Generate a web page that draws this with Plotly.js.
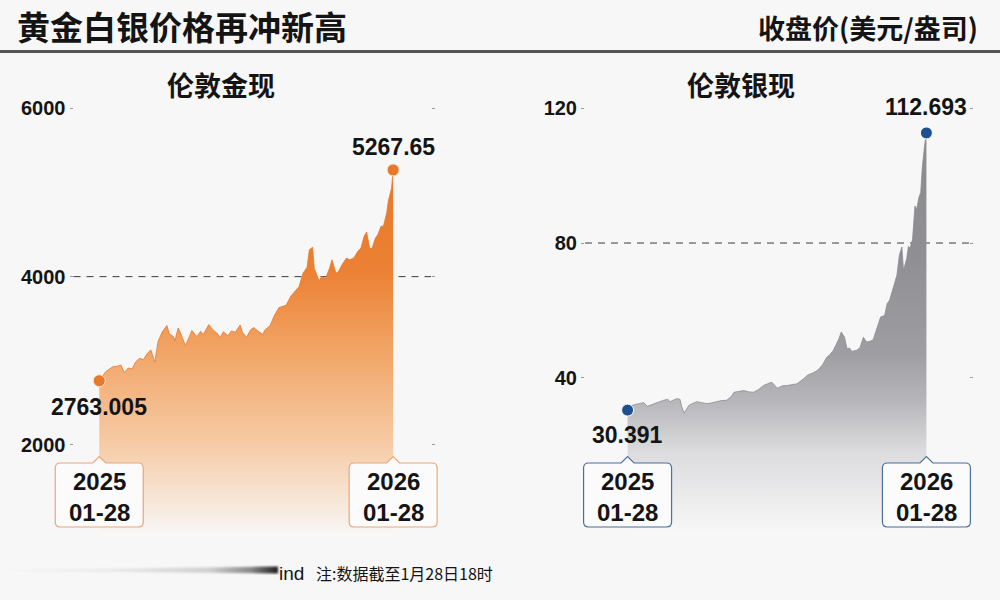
<!DOCTYPE html>
<html><head><meta charset="utf-8">
<script src="https://cdn.plot.ly/plotly-3.0.1.min.js"></script>
<style>html,body{margin:0;padding:0;background:#f7f7f7}#chart{width:1000px;height:600px}</style>
</head><body><div id="chart"></div>
<script>
// ---------------- data ----------------
const goldDates = ['2025-01-28','2025-01-31','2025-02-05','2025-02-10','2025-02-14','2025-02-19','2025-02-24','2025-02-28','2025-03-05','2025-03-10','2025-03-14','2025-03-19','2025-03-24','2025-03-28','2025-04-02','2025-04-07','2025-04-11','2025-04-16','2025-04-22','2025-04-25','2025-04-30','2025-05-02','2025-05-06','2025-05-09','2025-05-15','2025-05-20','2025-05-23','2025-05-29','2025-06-03','2025-06-06','2025-06-13','2025-06-18','2025-06-24','2025-06-27','2025-07-01','2025-07-07','2025-07-11','2025-07-16','2025-07-22','2025-07-25','2025-07-30','2025-08-04','2025-08-08','2025-08-13','2025-08-19','2025-08-22','2025-08-28','2025-09-02','2025-09-08','2025-09-12','2025-09-17','2025-09-23','2025-09-29','2025-10-03','2025-10-08','2025-10-13','2025-10-16','2025-10-20','2025-10-22','2025-10-28','2025-10-31','2025-11-05','2025-11-10','2025-11-13','2025-11-18','2025-11-21','2025-11-26','2025-12-01','2025-12-05','2025-12-10','2025-12-15','2025-12-19','2025-12-23','2025-12-26','2025-12-30','2026-01-02','2026-01-06','2026-01-09','2026-01-13','2026-01-16','2026-01-20','2026-01-22','2026-01-26','2026-01-27','2026-01-28'];
const goldValues = [2763.005,2800,2870,2905,2930,2935,2950,2860,2915,2905,2985,3030,3015,3080,3130,2985,3230,3340,3420,3320,3290,3240,3390,3330,3180,3290,3360,3290,3350,3310,3430,3370,3320,3275,3345,3300,3355,3340,3425,3335,3280,3370,3395,3355,3315,3370,3415,3530,3630,3645,3660,3770,3830,3880,4040,4110,4320,4350,4100,3950,4000,3980,4100,4200,4040,4060,4150,4220,4200,4220,4300,4340,4480,4530,4330,4340,4460,4500,4600,4600,4760,4900,5050,5180,5267.65];

const silverDates = ['2025-01-28','2025-01-31','2025-02-05','2025-02-12','2025-02-17','2025-02-21','2025-02-26','2025-03-01','2025-03-06','2025-03-13','2025-03-18','2025-03-21','2025-03-26','2025-03-29','2025-04-02','2025-04-04','2025-04-07','2025-04-10','2025-04-13','2025-04-18','2025-04-23','2025-04-28','2025-05-05','2025-05-10','2025-05-17','2025-05-22','2025-05-29','2025-06-04','2025-06-07','2025-06-12','2025-06-19','2025-06-25','2025-07-01','2025-07-07','2025-07-13','2025-07-18','2025-07-23','2025-07-30','2025-08-05','2025-08-11','2025-08-17','2025-08-23','2025-08-31','2025-09-05','2025-09-12','2025-09-17','2025-09-23','2025-09-28','2025-10-01','2025-10-06','2025-10-09','2025-10-13','2025-10-16','2025-10-20','2025-10-23','2025-10-26','2025-10-29','2025-11-04','2025-11-08','2025-11-12','2025-11-16','2025-11-20','2025-11-24','2025-11-28','2025-12-03','2025-12-08','2025-12-11','2025-12-14','2025-12-17','2025-12-20','2025-12-23','2025-12-26','2025-12-29','2025-12-31','2026-01-04','2026-01-06','2026-01-08','2026-01-11','2026-01-14','2026-01-16','2026-01-19','2026-01-21','2026-01-23','2026-01-26','2026-01-28'];
const silverValues = [30.391,31.5,32.0,32.3,32.6,31.5,32.0,32.1,32.8,33.3,33.6,32.9,33.5,33.8,33.6,31.5,29.5,30.5,31.8,32.4,32.9,32.6,32.3,32.5,32.9,33.2,33.3,34.5,35.7,35.9,36.2,35.8,35.7,36.5,37.7,38.2,38.7,36.9,37.6,37.7,37.9,38.2,39.7,40.8,41.5,42.2,43.8,46.0,46.6,48.0,49.5,51.5,53.6,52.0,48.6,48.8,47.8,48.2,49.0,52.0,50.6,50.8,51.3,54.5,58.0,58.5,62.0,63.0,65.5,67.5,70.5,76.5,78.8,71.9,75.5,79.0,78.5,81.0,91.0,90.0,93.7,95.0,102.6,109.5,112.693];

const goldTicks = [2000, 4000, 6000];
const silverTicks = [40, 80, 120];
const goldRefLine = 4000;
const silverRefLine = 80;
const goldRange = [966, 6000];
const silverRange = [-5.8, 120];
const chartTitle = '黄金白银价格再冲新高';
const unitText = '收盘价(美元/盎司)';
const panelTitles = ['伦敦金现', '伦敦银现'];
const footerSource = 'ind';
const footerNote = '注:数据截至1月28日18时';

// ---------------- style ----------------
const NUM = '"Liberation Sans", Arial, sans-serif';
const CJK = '"Noto Sans CJK SC", "Noto Sans", sans-serif';
const INK = '#141414';
const BG = '#f7f7f7';
const GOLD = '#e8782a';
const SILVER_DOT = '#1f4f8f';
const H = 600, W = 1000;
const py = px => 1 - px / H;

const gN = goldDates.length, sN = silverDates.length;

const xGold = {domain: [0.0735, 0.431], range: ['2024-12-27', '2026-03-16']};
const xSilver = {domain: [0.585, 0.969], range: ['2024-12-07', '2026-03-21']};
function dateToPaper(ax, d) {
  const t = Date.parse(d + 'T00:00:00Z');
  const r0 = Date.parse(ax.range[0] + 'T00:00:00Z'), r1 = Date.parse(ax.range[1] + 'T00:00:00Z');
  return ax.domain[0] + (t - r0) / (r1 - r0) * (ax.domain[1] - ax.domain[0]);
}

const traces = [
  {
    x: goldDates, y: goldValues, xaxis: 'x', yaxis: 'y', type: 'scatter', mode: 'lines',
    line: {color: GOLD, width: 0.8}, fill: 'tozeroy',
    fillgradient: {type: 'vertical', start: goldRange[0], stop: 5268,
      colorscale: [[0, 'rgba(247,245,243,1)'], [0.25, '#f6caa4'], [0.5, '#f1a566'], [0.72, '#eb8134'], [1, '#e8782a']]},
    hoverinfo: 'skip'
  },
  {
    x: [goldDates[0], goldDates[gN-1]], y: [goldValues[0], goldValues[gN-1]], xaxis: 'x', yaxis: 'y',
    type: 'scatter', mode: 'markers', marker: {size: 12, color: GOLD, line: {color: '#fbe3d0', width: 1}}, hoverinfo: 'skip'
  },
  {
    x: [silverDates[0], silverDates[sN-1]], y: [silverRange[0], silverRange[0]], xaxis: 'x2', yaxis: 'y2',
    type: 'scatter', mode: 'lines', line: {width: 0, color: 'rgba(0,0,0,0)'}, hoverinfo: 'skip'
  },
  {
    x: silverDates, y: silverValues, xaxis: 'x2', yaxis: 'y2', type: 'scatter', mode: 'lines',
    line: {color: '#8d8c90', width: 0.8}, fill: 'tonexty',
    fillgradient: {type: 'vertical', start: silverRange[0], stop: 112.7,
      colorscale: [[0, 'rgba(247,247,248,1)'], [0.2, '#dcdcde'], [0.33, '#b6b5b9'], [0.45, '#9e9da1'], [0.7, '#8f8e92'], [1, '#8c8b8f']]},
    hoverinfo: 'skip'
  },
  {
    x: [silverDates[0], silverDates[sN-1]], y: [silverValues[0], silverValues[sN-1]], xaxis: 'x2', yaxis: 'y2',
    type: 'scatter', mode: 'markers', marker: {size: 12, color: SILVER_DOT, line: {color: '#ffffff', width: 1}}, hoverinfo: 'skip'
  }
];

const tickFont = {family: NUM, size: 20, color: INK, weight: 'bold'};
const yBase = {
  tickmode: 'array', ticks: 'outside', ticklen: 3, tickwidth: 1, tickcolor: '#9a9a9a',
  mirror: 'ticks', showline: false, showgrid: false, zeroline: false, tickfont: tickFont, fixedrange: true
};

const layout = {
  width: W, height: H, margin: {l: 0, r: 0, t: 0, b: 0},
  paper_bgcolor: BG, plot_bgcolor: BG, showlegend: false,
  xaxis: {domain: xGold.domain, anchor: 'y', type: 'date', range: xGold.range, visible: false},
  yaxis: Object.assign({}, yBase, {domain: [py(532), py(108.3)], anchor: 'x', range: goldRange, tickvals: goldTicks, ticktext: goldTicks.map(String)}),
  xaxis2: {domain: xSilver.domain, anchor: 'y2', type: 'date', range: xSilver.range, visible: false},
  yaxis2: Object.assign({}, yBase, {domain: [py(532), py(108.3)], anchor: 'x2', range: silverRange, tickvals: silverTicks, ticktext: silverTicks.map(String)}),
  shapes: [], annotations: [], images: []
};

// reference dashed lines
layout.shapes.push({type: 'line', xref: 'x domain', yref: 'y', x0: 0, x1: 1, y0: goldRefLine, y1: goldRefLine,
  line: {color: '#3c3c3c', width: 1, dash: '7px,6px'}, layer: 'below'});
layout.shapes.push({type: 'line', xref: 'x2 domain', yref: 'y2', x0: 0, x1: 1, y0: silverRefLine, y1: silverRefLine,
  line: {color: '#3c3c3c', width: 1, dash: '7px,6px'}, layer: 'below'});
// header rule
layout.shapes.push({type: 'line', xref: 'paper', yref: 'paper', x0: 0, x1: 1, y0: py(51.5), y1: py(51.5),
  line: {color: '#555555', width: 3}});

// date call-out boxes
const boxPath = 'M -39,73 Q -44,73 -44,78 L -44,132 Q -44,137 -39,137 L -6.5,137 L 0,143.5 L 6.5,137 L 39,137 Q 44,137 44,132 L 44,78 Q 44,73 39,73 Z';
function addDateBox(ax, xref, date, border) {
  const px = dateToPaper(ax, date);
  layout.shapes.push({type: 'path', xref: 'paper', yref: 'paper', xsizemode: 'pixel', ysizemode: 'pixel',
    xanchor: px, yanchor: 0, path: boxPath, fillcolor: '#fbfbfb', line: {color: border, width: 1.2}, layer: 'above'});
  layout.annotations.push({xref: xref, yref: 'paper', x: date, y: py(496.5), text: date.slice(0, 4) + '<br>' + date.slice(5), showarrow: false,
    xanchor: 'center', yanchor: 'middle', font: {family: NUM, size: 24, color: INK, weight: 'bold'}});
}
addDateBox(xGold, 'x', goldDates[0], '#eaa77a');
addDateBox(xGold, 'x', goldDates[gN-1], '#eaa77a');
addDateBox(xSilver, 'x2', silverDates[0], '#4b6f9e');
addDateBox(xSilver, 'x2', silverDates[sN-1], '#4b6f9e');

// value labels
function addValueLabel(xref, yref, date, val, shift) {
  layout.annotations.push({xref: xref, yref: yref, x: date, y: val, text: String(val), showarrow: false,
    xanchor: 'center', yanchor: 'middle', yshift: shift, font: {family: NUM, size: 23, color: INK, weight: 'bold'}});
}
addValueLabel('x', 'y', goldDates[0], goldValues[0], -26);
addValueLabel('x', 'y', goldDates[gN-1], goldValues[gN-1], 23);
addValueLabel('x2', 'y2', silverDates[0], silverValues[0], -25);
addValueLabel('x2', 'y2', silverDates[sN-1], silverValues[sN-1], 26);

// titles
layout.annotations.push({xref: 'paper', yref: 'paper', x: 15 / W, y: py(26), xanchor: 'left', yanchor: 'middle',
  text: chartTitle, showarrow: false, font: {family: CJK, size: 33, color: INK, weight: 'bold'}});
layout.annotations.push({xref: 'paper', yref: 'paper', x: 980 / W, y: py(27), xanchor: 'right', yanchor: 'middle',
  text: unitText, showarrow: false, font: {family: CJK, size: 27, color: INK, weight: 'bold'}});
layout.annotations.push({xref: 'paper', yref: 'paper', x: 221 / W, y: py(84), xanchor: 'center', yanchor: 'middle',
  text: panelTitles[0], showarrow: false, font: {family: CJK, size: 27, color: INK, weight: 'bold'}});
layout.annotations.push({xref: 'paper', yref: 'paper', x: 741 / W, y: py(85), xanchor: 'center', yanchor: 'middle',
  text: panelTitles[1], showarrow: false, font: {family: CJK, size: 27, color: INK, weight: 'bold'}});

// footer
layout.annotations.push({xref: 'paper', yref: 'paper', x: 277 / W, y: py(573), xanchor: 'left', yanchor: 'middle',
  text: footerSource, showarrow: false, font: {family: NUM, size: 19, color: INK}});
layout.annotations.push({xref: 'paper', yref: 'paper', x: 314 / W, y: py(573), xanchor: 'left', yanchor: 'middle',
  text: footerNote, showarrow: false, font: {family: CJK, size: 16, color: INK}});

const smear = '<svg xmlns="http://www.w3.org/2000/svg" width="280" height="20" viewBox="0 0 280 20">' +
  '<defs><linearGradient id="g" x1="0" y1="0" x2="1" y2="0">' +
  '<stop offset="0" stop-color="#f3f3f3"/><stop offset="0.45" stop-color="#e6e6e6"/>' +
  '<stop offset="0.75" stop-color="#cfcfcf"/><stop offset="0.9" stop-color="#8a8a8a"/><stop offset="1" stop-color="#1e1e1e"/>' +
  '</linearGradient><filter id="b"><feGaussianBlur stdDeviation="1.1"/></filter></defs>' +
  '<polygon points="2,10 275,6.5 275,13.5 2,11" fill="url(#g)" filter="url(#b)"/></svg>';
layout.images.push({source: 'data:image/svg+xml;utf8,' + encodeURIComponent(smear), xref: 'paper', yref: 'paper',
  x: 3 / W, y: py(560), sizex: 280 / W, sizey: 20 / H, sizing: 'stretch', xanchor: 'left', yanchor: 'top', layer: 'above'});

Plotly.newPlot('chart', traces, layout, {staticPlot: true, displayModeBar: false});
</script></body></html>
